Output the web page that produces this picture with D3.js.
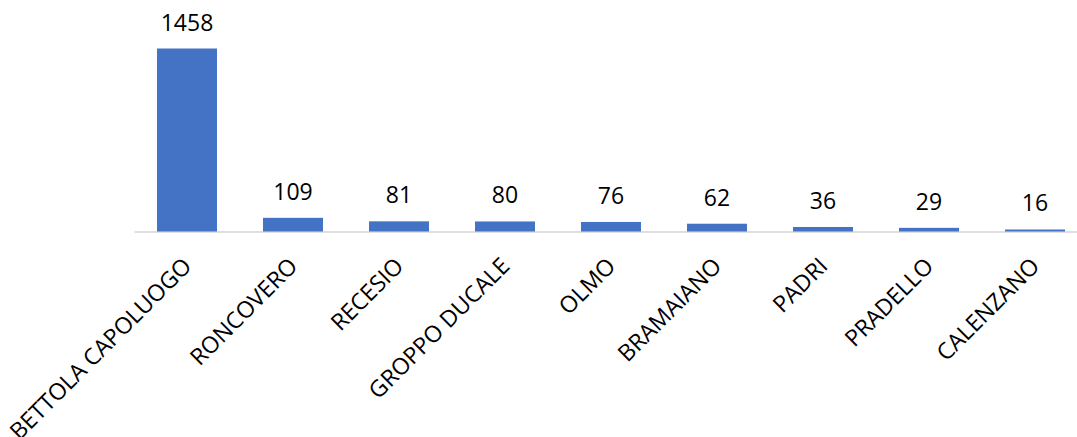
<!DOCTYPE html>
<html>
<head>
<meta charset="utf-8">
<script src="https://cdn.jsdelivr.net/npm/d3@7"></script>
<style>
  html, body { margin: 0; padding: 0; background: #fff; }
  svg { display: block; }
  text { font-family: "Open Sans", "Noto Sans", sans-serif; fill: #000; }
</style>
</head>
<body>
<script>
// Frazioni e numero di residenti
const categories = ["BETTOLA CAPOLUOGO", "RONCOVERO", "RECESIO", "GROPPO DUCALE", "OLMO", "BRAMAIANO", "PADRI", "PRADELLO", "CALENZANO"];
const values = [1458, 109, 81, 80, 76, 62, 36, 29, 16];

const width = 1077, height = 437;
const svg = d3.select("body").append("svg")
  .attr("width", width).attr("height", height);

const x = d3.scaleBand()
  .domain(categories)
  .range([134, 1088])
  .paddingInner(0.434)
  .paddingOuter(0.217);

const y = d3.scaleLinear()
  .domain([0, 1458])
  .range([231.5, 48.5]);

// baseline axis
const axis = svg.append("g")
  .attr("transform", `translate(0,${y(0)})`)
  .call(d3.axisBottom(x).tickSize(0).tickFormat(""));
axis.select(".domain").attr("stroke", "#bfbfbf").attr("stroke-width", 1.2);

// bars
svg.append("g").selectAll("rect")
  .data(values)
  .join("rect")
  .attr("x", (d, i) => x(categories[i]))
  .attr("width", x.bandwidth())
  .attr("y", d => y(d))
  .attr("height", d => y(0) - y(d))
  .attr("fill", "#4472c4");

// value labels
svg.append("g").selectAll("text")
  .data(values)
  .join("text")
  .attr("x", (d, i) => x(categories[i]) + x.bandwidth() / 2)
  .attr("y", d => y(d) - 18)
  .attr("text-anchor", "middle")
  .style("font-size", "23px")
  .text(d => d);

// rotated category labels
svg.append("g").selectAll("text")
  .data(categories)
  .join("text")
  .attr("transform", d => `translate(${x(d) + x.bandwidth() / 2 + 6},${y(0) + 36}) rotate(-45)`)
  .attr("text-anchor", "end")
  .style("font-size", "23px")
  .text(d => d);
</script>
</body>
</html>
